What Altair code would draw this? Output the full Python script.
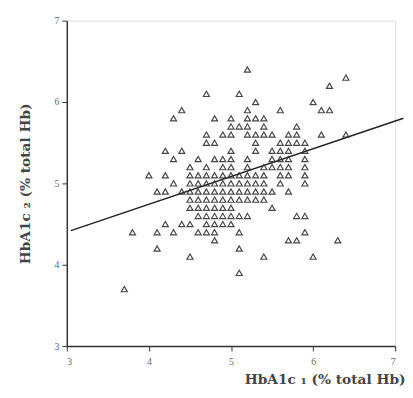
import altair as alt
import pandas as pd

# Columns of HbA1c1 value -> HbA1c2 values
columns = {
    3.7: [3.7],
    3.8: [4.4],
    4.0: [5.1],
    4.1: [4.9, 4.4, 4.2],
    4.2: [5.4, 5.1, 4.9, 4.5],
    4.3: [5.8, 5.3, 5.0, 4.4],
    4.4: [5.9, 5.4, 4.9, 4.5],
    4.5: [5.2, 5.1, 5.0, 4.9, 4.8, 4.7, 4.5, 4.1],
    4.6: [5.3, 5.1, 5.0, 4.9, 4.8, 4.7, 4.6, 4.4],
    4.7: [6.1, 5.6, 5.5, 5.2, 5.1, 5.0, 4.9, 4.8, 4.7, 4.6, 4.5, 4.4],
    4.8: [5.8, 5.5, 5.3, 5.1, 5.0, 4.9, 4.8, 4.7, 4.6, 4.5, 4.4, 4.3],
    4.9: [5.6, 5.3, 5.2, 5.1, 5.0, 4.9, 4.8, 4.7, 4.6, 4.5],
    5.0: [5.8, 5.7, 5.6, 5.4, 5.3, 5.2, 5.1, 5.0, 4.9, 4.8, 4.7, 4.6, 4.5],
    5.1: [6.1, 5.7, 5.1, 5.0, 4.9, 4.8, 4.6, 4.4, 4.2, 3.9],
    5.2: [6.4, 5.9, 5.8, 5.7, 5.6, 5.3, 5.2, 5.1, 5.0, 4.9, 4.8, 4.6],
    5.3: [6.0, 5.8, 5.6, 5.5, 5.4, 5.1, 5.0, 4.9, 4.8],
    5.4: [5.8, 5.7, 5.6, 5.2, 5.1, 5.0, 4.9, 4.8, 4.1],
    5.5: [5.6, 5.4, 5.3, 5.2, 4.9, 4.7],
    5.6: [5.9, 5.5, 5.4, 5.3, 5.2, 5.1, 5.0],
    5.7: [5.6, 5.5, 5.4, 5.3, 5.2, 5.1, 4.9, 4.3],
    5.8: [5.7, 5.6, 5.5, 4.6, 4.3],
    5.9: [5.5, 5.4, 5.3, 5.2, 5.1, 5.0, 4.6, 4.4],
    6.0: [6.0, 4.1],
    6.1: [5.9, 5.6],
    6.2: [6.2, 5.9],
    6.3: [4.3],
    6.4: [6.3, 5.6],
}

line_x = [3.05, 7.1]
line_y = [4.42, 5.80]

tick_values = [3, 4, 5, 6, 7]

rows = [{"x": k, "y": v} for k, vals in columns.items() for v in vals]
df = pd.DataFrame(rows)
line_df = pd.DataFrame({"x": line_x, "y": line_y})

xscale = alt.Scale(domain=[3, 7], nice=False, zero=False)
yscale = alt.Scale(domain=[3, 7], nice=False, zero=False)

axis_common = dict(
    values=tick_values, grid=False, domainColor="#333", domainWidth=1.5,
    tickColor="#333", tickSize=5, labelFont="Liberation Serif", labelFontSize=10,
    labelColor="#666", titleFont="DejaVu Serif", titleFontSize=14,
    titleFontWeight="bold", titleColor="#444", format="d",
)

points = alt.Chart(df).mark_point(
    shape="triangle-up", filled=False, stroke="#333", strokeWidth=1.2, size=38, opacity=0.9
).encode(
    x=alt.X("x:Q", scale=xscale,
            axis=alt.Axis(title="HbA1c ₁ (% total Hb)", titleX=345, titleAlign="right",
                          titleAnchor="end", titlePadding=6, labelPadding=6, **axis_common)),
    y=alt.Y("y:Q", scale=yscale,
            axis=alt.Axis(title="HbA1c ₂ (% total Hb)", titlePadding=22,
                          labelPadding=3, **axis_common)),
)

line = alt.Chart(line_df).mark_line(color="#222", strokeWidth=1.5, clip=False).encode(
    x="x:Q", y="y:Q"
)

chart = (line + points).properties(
    width=335, height=332,
    autosize=alt.AutoSizeParams(type="none"),
    padding={"left": 60, "top": 9, "right": 10, "bottom": 48},
).configure_view(stroke=None).configure(background="white")

chart.save("out.html", embed_options={"renderer": "svg", "actions": False})
